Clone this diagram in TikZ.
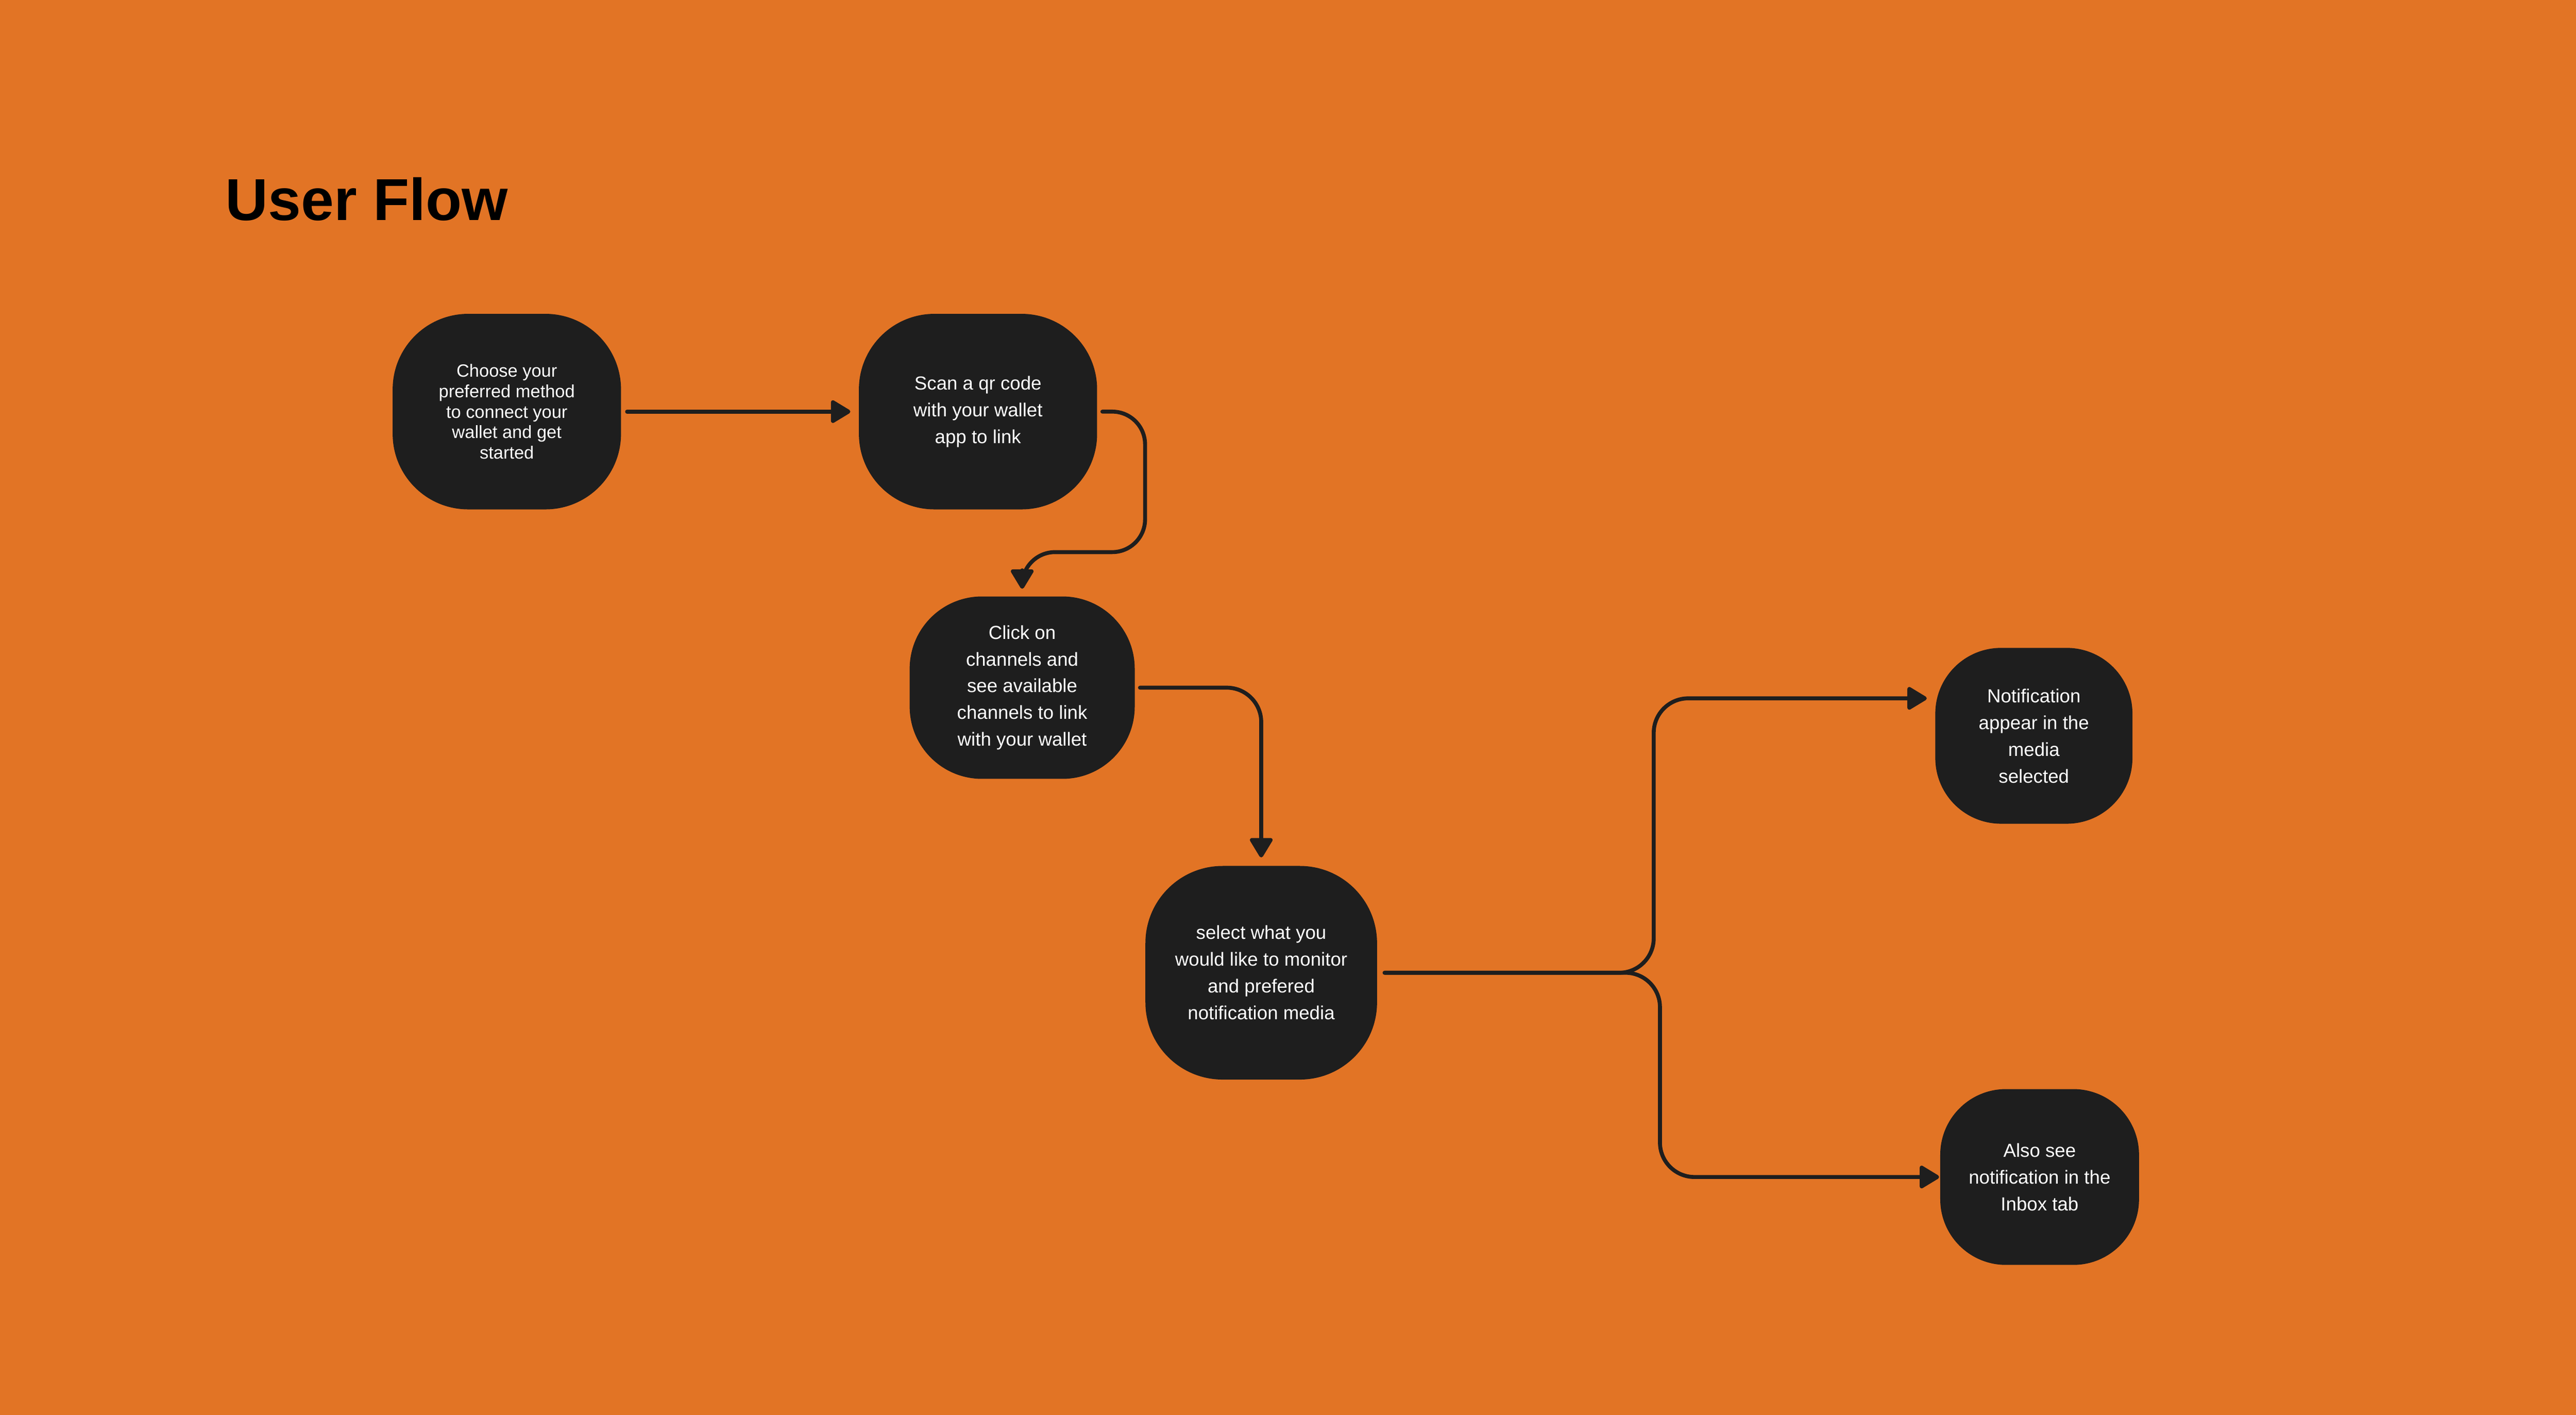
\documentclass[tikz,border=0pt]{standalone}
\usepackage{fontspec}
\setmainfont{Liberation Sans}
\usetikzlibrary{arrows.meta,calc}
\definecolor{bg}{HTML}{E27425}
\definecolor{ink}{HTML}{1E1E1E}
\begin{document}
\begin{tikzpicture}[x=1pt,y=-1pt,
  stepbox/.style={fill=ink, draw=none, text=white, align=center, inner sep=0pt,
    rounded corners=#1, font=\fontsize{11.5}{16.3}\selectfont},
  flow/.style={draw=ink, line width=2.4pt, line cap=round, line join=round,
    -{Triangle[length=13pt,width=15pt,round]}, rounded corners=21pt}]
\path[use as bounding box, fill=bg] (0,0) rectangle (1568,861);

\node[anchor=base west, inner sep=0pt, font=\fontsize{36}{40}\selectfont\bfseries] (title) at (137,134) {User Flow};

\node[stepbox=46pt, minimum width=139pt, minimum height=119pt, font=\fontsize{10.8}{12.5}\selectfont] (n1) at (308.5,250.5) {Choose your\\preferred method\\to connect your\\wallet and get\\started};
\node[stepbox=46pt, minimum width=145pt, minimum height=119pt] (n2) at (595.3,250.5) {Scan a qr code\\with your wallet\\app to link};
\node[stepbox=44pt, minimum width=137pt, minimum height=111pt] (n3) at (622.2,418.5) {Click on\\channels and\\see available\\channels to link\\with your wallet};
\node[stepbox=47pt, minimum width=141pt, minimum height=130pt] (n4) at (767.7,592) {select what you\\would like to monitor\\and prefered\\notification media};
\node[stepbox=40pt, minimum width=120pt, minimum height=107pt] (n5) at (1238,447.8) {Notification\\appear in the\\media\\selected};
\node[stepbox=40pt, minimum width=121pt, minimum height=107pt] (n6) at (1241.5,716.3) {Also see\\notification in the\\Inbox tab};

\coordinate (t5) at ($(n5.west)+(0,-22.8)$);

\draw[flow, shorten <=3.5pt, shorten >=5pt] (n1) -- (n2);
\draw[flow, rounded corners=20pt, shorten <=3pt, shorten >=4.5pt] (n2.east) -- ++(29,0) -- ++(0,85.5) -| (n3.north);
\draw[flow, shorten <=3pt, shorten >=5pt] (n3.east) -| (n4.north);
\draw[flow, shorten <=4.4pt, shorten >=5pt] (n4.east) -- ++(168.2,0) |- (t5);
\draw[flow, shorten <=4.4pt, shorten >=0.5pt] (n4.east) -- ++(172,0) |- (n6.west);
\end{tikzpicture}
\end{document}
